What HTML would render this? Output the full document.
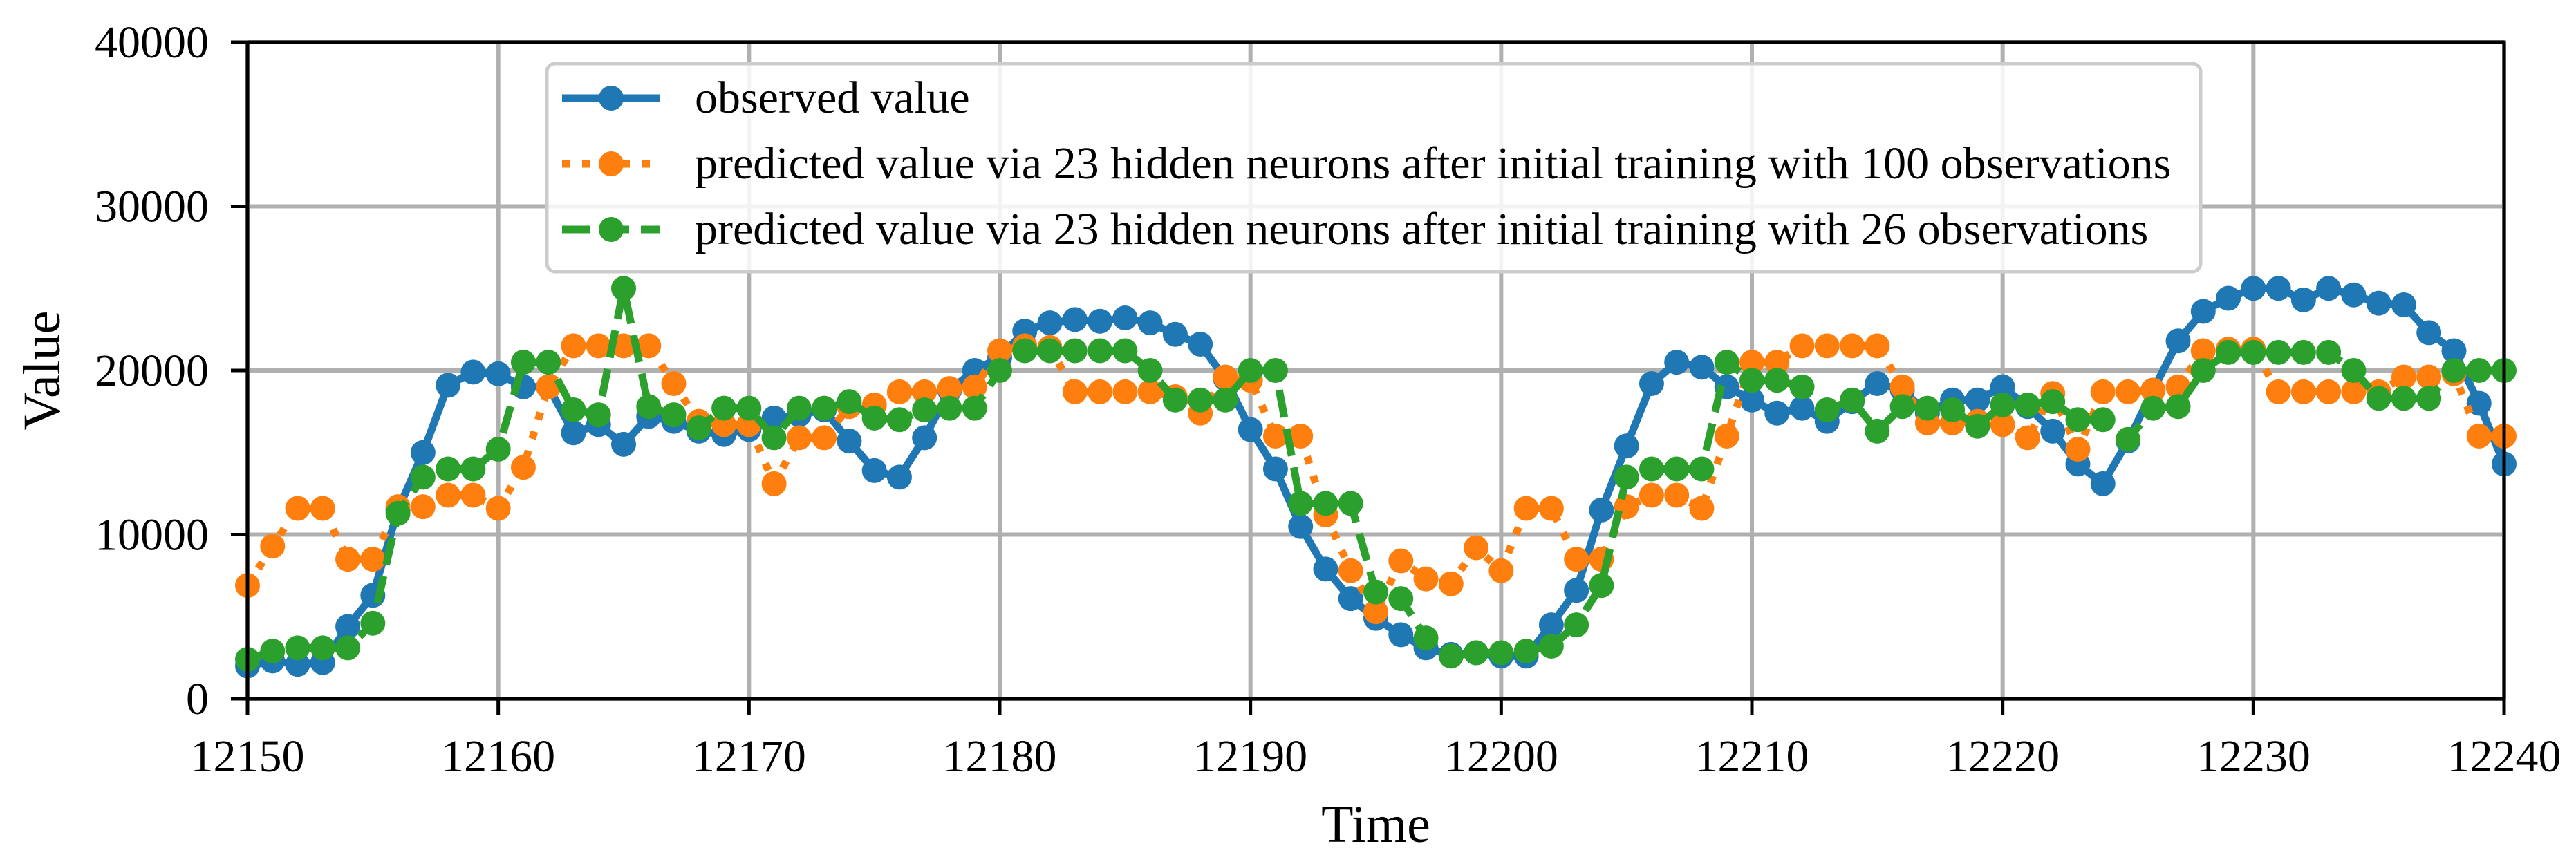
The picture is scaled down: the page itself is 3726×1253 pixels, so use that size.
<!DOCTYPE html>
<html><head><meta charset="utf-8"><style>
html,body{margin:0;padding:0;background:#fff;}
svg{display:block;font-family:"Liberation Serif","DejaVu Serif",serif;}
</style></head><body>
<svg id="chart" width="3726" height="1253" viewBox="0 0 3726 1253">
<g id="grid"></g>
<g id="series"></g>
<g id="axes"></g>
<g id="legend"></g>
</svg>
<script>
const xStart = 12150;
const observed = [2000,2300,2100,2200,4400,6300,11500,15000,19100,19900,19800,19000,19000,16200,16700,15500,17200,16900,16300,16100,16400,17100,17300,17600,15700,13900,13500,15900,18800,20000,20800,22400,22900,23100,23000,23200,22900,22200,21600,19500,16400,14000,10500,7900,6100,4900,3900,3100,2700,2800,2600,2600,4500,6600,11500,15400,19200,20500,20200,19000,18200,17400,17700,16900,18100,19200,18800,17400,18200,18200,19000,17800,16300,14300,13100,15700,18800,21800,23600,24400,25000,25000,24300,25000,24600,24100,24000,22300,21200,18000,14300];
const pred100 = [6900,9300,11600,11600,8500,8500,11700,11700,12400,12400,11600,14100,19000,21500,21500,21500,21500,19200,16900,16700,16700,13100,15900,15900,17800,17900,18700,18700,18900,19000,21200,21500,21400,18700,18700,18700,18700,18400,17400,19600,19400,16000,16000,11200,7800,5300,8400,7300,7000,9200,7800,11600,11600,8500,8500,11700,12400,12400,11600,16000,20500,20500,21500,21500,21500,21500,19000,16800,16800,16900,16700,15900,18600,15200,18700,18700,18800,19000,21200,21300,21300,18700,18700,18700,18700,18700,19600,19600,19800,16000,16000];
const pred26 = [2400,2900,3100,3100,3100,4600,11300,13500,14000,14000,15200,20500,20500,17600,17300,25000,17800,17300,16500,17700,17700,15900,17700,17700,18100,17100,17000,17600,17700,17700,20000,21200,21200,21200,21200,21200,20000,18200,18200,18200,20000,20000,11900,11900,11900,6500,6100,3700,2600,2800,2800,2900,3200,4500,6900,13500,14000,14000,14000,20500,19400,19400,19000,17600,18200,16300,17800,17700,17600,16600,17900,17900,18100,17000,17000,15800,17700,17800,20000,21100,21100,21100,21100,21100,20000,18300,18300,18300,20000,20000,20000];
const xTicks = [12150,12160,12170,12180,12190,12200,12210,12220,12230,12240];
const yTicks = [0,10000,20000,30000,40000];
const legendLabels = ["observed value","predicted value via 23 hidden neurons after initial training with 100 observations","predicted value via 23 hidden neurons after initial training with 26 observations"];

const L=358,R=3622,T=61,B=1011,xMin=12150,xMax=12240,yMin=0,yMax=40000;
const xs=v=>L+(v-xMin)/(xMax-xMin)*(R-L);
const ys=v=>B-(v-yMin)/(yMax-yMin)*(B-T);
const NS="http://www.w3.org/2000/svg";
function mk(tag,attrs,parent){const e=document.createElementNS(NS,tag);for(const k in attrs)e.setAttribute(k,attrs[k]);parent.appendChild(e);return e;}
const grid=document.getElementById('grid'),series=document.getElementById('series'),axes=document.getElementById('axes'),legend=document.getElementById('legend');

xTicks.forEach(t=>{const l=mk('line',{x1:xs(t),x2:xs(t),y1:T,y2:B,stroke:'#b0b0b0','stroke-width':6},grid);

});
yTicks.forEach(t=>{const l=mk('line',{x1:L,x2:R,y1:ys(t),y2:ys(t),stroke:'#b0b0b0','stroke-width':6},grid);

});

const defs=[{d:observed,c:'#1f77b4',dash:'none',name:'observed'},{d:pred100,c:'#ff7f0e',dash:'11,18',name:'pred-100'},{d:pred26,c:'#2ca02c',dash:'40,17',name:'pred-26'}];
defs.forEach(s=>{
  const g=mk('g',{},series);
  
  
  const pts=s.d.map((v,i)=>xs(xStart+i).toFixed(1)+','+ys(v).toFixed(1)).join(' ');
  const pl=mk('polyline',{points:pts,fill:'none',stroke:s.c,'stroke-width':11,'stroke-dasharray':s.dash,'stroke-linejoin':'round'},g);
  
  
  s.d.forEach((v,i)=>{const c=mk('circle',{cx:xs(xStart+i),cy:ys(v),r:18,fill:s.c},g);
  
  });
});

const fr=mk('rect',{x:L,y:T,width:R-L,height:B-T,fill:'none',stroke:'#000','stroke-width':5},axes);


xTicks.forEach(t=>{
  mk('line',{x1:xs(t),x2:xs(t),y1:B,y2:B+24,stroke:'#000','stroke-width':5},axes);
  const tx=mk('text',{x:xs(t),y:1116,'font-size':66,'text-anchor':'middle'},axes);tx.textContent=t;
  
  
});
yTicks.forEach(t=>{
  mk('line',{x1:L-24,x2:L,y1:ys(t),y2:ys(t),stroke:'#000','stroke-width':5},axes);
  const tx=mk('text',{x:302,y:ys(t)+22,'font-size':66,'text-anchor':'end'},axes);tx.textContent=t;
  
  
});
const xl=mk('text',{x:(L+R)/2,y:1218,'font-size':76,'text-anchor':'middle'},axes);xl.textContent='Time';


const yl=mk('text',{x:0,y:0,'font-size':76,'text-anchor':'middle',transform:'translate(86,536) rotate(-90)'},axes);yl.textContent='Value';



const lb=mk('rect',{x:791,y:92,width:2392,height:301,rx:12,fill:'#fff','fill-opacity':0.85,stroke:'#cccccc','stroke-width':5},legend);


const rows=[142,237,332];
defs.forEach((s,i)=>{
  const g=mk('g',{},legend);
  
  
  mk('line',{x1:813,x2:955,y1:rows[i],y2:rows[i],stroke:s.c,'stroke-width':11,'stroke-dasharray':s.dash},g);
  mk('circle',{cx:884,cy:rows[i],r:18,fill:s.c},g);
  const tx=mk('text',{x:1005,y:rows[i]+21,'font-size':66},g);tx.textContent=legendLabels[i];
});
</script>
</body></html>
